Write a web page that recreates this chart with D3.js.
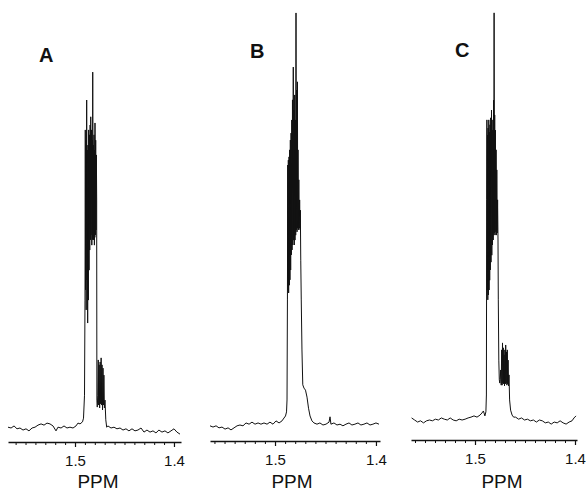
<!doctype html>
<html>
<head>
<meta charset="utf-8">
<title>1H NMR panels A B C</title>
<script src="https://d3js.org/d3.v7.min.js"></script>
<style>
  body { margin: 0; background: #fff; }
  text { font-family: "Liberation Sans", Arial, sans-serif; }
</style>
</head>
<body>
<div id="chart"></div>
<script>
// spectra: [ppm, intensity] (intensity 0 = baseline, ~100 = tallest line)
var spectrumA = [
  [1.5677,0.2],[1.5646,0],[1.5616,0.5],[1.5586,-0.2],[1.5556,0],[1.5525,-0.5],[1.5495,-0.2],[1.5465,-0.7],
  [1.5434,0],[1.5404,0.2],[1.5374,0.7],[1.5343,1.0],[1.5313,0.7],[1.5283,1.2],[1.5253,1.0],[1.5222,0.5],
  [1.5192,-0.7],[1.5172,0.2],[1.5141,0],[1.5111,0.5],[1.5081,0],[1.5051,0.2],[1.5020,0],[1.4990,0.5],
  [1.4970,1.2],[1.4949,1.0],
  [1.4924,1.5],[1.4914,2.4],[1.4904,8.0],[1.4899,31.2],[1.4896,72.7],[1.4893,33.7],[1.4890,70.2],[1.4887,28.8],
  [1.4882,80.0],[1.4879,36.1],[1.4876,67.8],[1.4872,25.6],[1.4869,69.0],[1.4865,31.2],[1.4862,72.7],[1.4858,38.5],
  [1.4855,71.5],[1.4851,43.4],[1.4847,73.9],[1.4843,45.9],[1.4841,75.9],[1.4838,47.1],[1.4834,72.7],[1.4830,44.6],
  [1.4826,70.2],[1.4823,46.0],[1.4821,86.8],[1.4818,45.9],[1.4815,69.0],[1.4811,45.9],[1.4808,71.5],[1.4804,44.6],
  [1.4801,67.8],[1.47995,46.5],[1.4798,74.4],[1.4794,47.1],[1.4791,70.2],[1.4788,48.3],[1.4784,66.6],[1.4781,55.6],
  [1.4779,6.8],[1.4775,5.1],[1.4770,8.0],[1.4765,16.6],[1.4761,5.6],[1.4756,15.4],[1.4751,4.9],[1.4746,16.1],
  [1.4741,5.9],[1.4736,17.1],[1.4731,5.6],[1.4727,15.4],[1.4722,4.4],[1.4717,14.6],[1.4713,5.6],[1.4708,12.9],
  [1.4703,4.9],[1.4697,6.8],[1.4689,2.0],[1.4680,0.2],
  [1.4667,0.5],[1.4636,0],[1.4606,0.2],[1.4576,-0.2],[1.4545,0],[1.4515,-0.5],[1.4485,-0.2],[1.4455,-0.7],
  [1.4424,-0.2],[1.4394,-0.7],[1.4364,-0.5],[1.4333,0],[1.4303,-1.0],[1.4273,-0.5],[1.4242,-1.0],[1.4212,-0.7],
  [1.4182,-1.2],[1.4152,-0.5],[1.4121,-1.0],[1.4091,-0.7],[1.4061,-1.2],[1.4030,-0.7],[1.4000,-0.2],[1.3970,-1.0],
  [1.3939,-1.5]
];

var spectrumB = [
  [1.5644,-0.2],[1.5614,-0.5],[1.5584,-0.2],[1.5555,-0.7],[1.5525,-0.5],[1.5495,-1.0],[1.5465,-0.7],[1.5436,-1.2],
  [1.5406,-0.7],[1.5376,-0.2],[1.5347,0],[1.5317,-0.2],[1.5287,0.5],[1.5257,0.2],[1.5228,0.7],[1.5198,0.2],
  [1.5168,0.5],[1.5139,0.2],[1.5109,0.5],[1.5079,0.2],[1.5050,0.7],[1.5020,0.2],[1.4990,1.0],[1.4960,0.5],
  [1.4931,1.0],[1.4911,1.7],[1.4896,2.2],[1.4886,3.2],
  [1.4881,6.1],[1.4877,30.5],[1.4874,63.4],[1.4871,32.9],[1.4868,64.6],[1.4865,32.2],[1.4861,65.4],[1.4858,34.1],
  [1.4855,67.1],[1.4852,35.4],[1.4848,69.5],[1.4845,37.8],[1.4841,71.2],[1.4838,41.5],[1.4834,74.4],[1.4831,42.7],
  [1.4827,79.3],[1.4824,43.9],[1.4819,87.3],[1.4816,45.1],[1.4812,76.8],[1.4809,43.9],[1.4805,80.5],[1.4802,45.1],
  [1.4798,74.4],[1.4795,46.3],[1.4792,100.5],[1.4789,47.6],[1.4785,81.7],[1.4782,47.1],[1.4778,83.7],[1.4775,48.0],
  [1.4772,67.1],[1.4768,47.6],[1.4764,59.8],[1.4760,48.0],[1.4756,54.9],[1.4752,47.6],[1.4749,52.4],[1.4745,40.2],
  [1.4740,30.5],[1.4733,18.3],[1.4725,9.8],[1.4713,9.0],[1.4698,8.5],[1.4683,6.8],[1.4668,4.1],[1.4653,2.2],
  [1.4634,1.0],[1.4614,0.5],
  [1.4584,0.2],[1.4555,0.5],[1.4525,0],[1.4495,0.2],[1.4465,0.7],[1.4455,2.0],[1.4446,0.2],[1.4416,0.5],
  [1.4386,0],[1.4356,0.2],[1.4327,-0.2],[1.4297,0.2],[1.4267,0.5],[1.4238,0],[1.4208,0.2],[1.4178,0.5],
  [1.4149,0],[1.4119,0.2],[1.4089,0.5],[1.4059,0],[1.4030,0.2],[1.4000,0.5],[1.3970,0.2]
];

var spectrumC = [
  [1.5634,0.5],[1.5604,0],[1.5574,-0.5],[1.5545,-0.2],[1.5515,-0.7],[1.5485,-0.2],[1.5455,0],[1.5426,-0.2],
  [1.5396,0.2],[1.5366,0],[1.5337,0.5],[1.5307,0.2],[1.5277,0],[1.5248,0.5],[1.5218,0],[1.5188,-0.2],
  [1.5158,0.2],[1.5129,0],[1.5099,0.2],[1.5069,0.5],[1.5040,0.7],[1.5010,1.0],[1.4980,0.7],[1.4950,1.2],
  [1.4931,1.7],[1.4916,2.2],[1.4901,1.0],[1.4891,2.0],
  [1.4886,6.1],[1.4883,53.7],[1.4881,73.2],[1.4878,31.7],[1.4875,69.5],[1.4872,29.3],[1.4869,71.2],[1.4866,30.5],
  [1.4862,73.2],[1.4859,31.7],[1.4856,70.2],[1.4853,34.1],[1.4850,72.0],[1.4847,36.6],[1.4843,73.7],[1.4840,38.5],
  [1.4835,75.6],[1.4832,40.2],[1.4828,70.7],[1.4825,42.7],[1.4821,73.2],[1.4818,43.9],[1.4814,78.0],[1.4811,45.1],
  [1.4809,99.3],[1.4806,45.6],[1.4803,74.4],[1.4799,45.1],[1.4796,70.7],[1.4792,45.9],[1.4789,65.9],[1.4785,45.1],
  [1.4782,61.0],[1.4778,45.6],[1.4774,53.7],[1.4770,43.9],[1.4767,29.3],[1.4762,14.6],[1.4757,9.8],[1.4752,9.0],
  [1.4748,9.8],[1.4743,12.2],[1.4738,8.5],[1.4733,17.1],[1.4729,8.5],[1.4725,18.8],[1.4721,9.0],[1.4717,17.6],
  [1.4713,8.8],[1.4709,15.9],[1.4705,8.3],[1.4701,17.1],[1.4697,8.8],[1.4693,18.3],[1.4689,9.0],[1.4685,16.6],
  [1.4681,8.5],[1.4677,17.1],[1.4673,8.8],[1.4669,14.6],[1.4665,8.3],[1.4660,11.0],[1.4654,4.9],[1.4644,2.4],
  [1.4629,1.2],[1.4614,0.7],
  [1.4594,0.7],[1.4564,0.2],[1.4535,0.5],[1.4505,0],[1.4475,0.2],[1.4446,-0.2],[1.4416,0],[1.4386,-0.5],
  [1.4356,0],[1.4327,-0.2],[1.4297,-0.7],[1.4267,-0.5],[1.4238,-1.0],[1.4208,-0.5],[1.4178,-0.7],[1.4149,-0.2],
  [1.4119,-0.7],[1.4089,-1.0],[1.4059,-0.5],[1.4030,-0.2],[1.4010,0.5],[1.3990,1.0]
];

var panelNames = ["A", "B", "C"];
var majorTicks = [1.5, 1.4];
var minorTicks = [1.56, 1.55, 1.54, 1.53, 1.52, 1.51, 1.49, 1.48, 1.47, 1.46, 1.45, 1.44, 1.43, 1.42, 1.41];
var axisTitle = "PPM";

// where each panel sits on the page
var layout = [
  {data: spectrumA, domain: [1.5677, 1.3929], left: 8,   right: 181, base: 428, axisY: 442, nameX: 39,  nameY: 62, titleX: 98},
  {data: spectrumB, domain: [1.5644, 1.3960], left: 210, right: 380, base: 425, axisY: 441, nameX: 250, nameY: 58, titleX: 292},
  {data: spectrumC, domain: [1.5640, 1.3980], left: 411, right: 577, base: 420, axisY: 440, nameX: 455, nameY: 57, titleX: 502}
];

var svg = d3.select("#chart")
  .append("svg")
    .attr("width", 586)
    .attr("height", 492);

layout.forEach(function(p, i) {
  var x = d3.scaleLinear().domain(p.domain).range([p.left, p.right]);
  var y = d3.scaleLinear().domain([0, 100]).range([p.base, p.base - 410]);
  var inside = function(t) { return t <= p.domain[0] && t >= p.domain[1]; };

  var g = svg.append("g");

  // the spectrum trace
  g.append("path")
    .datum(p.data)
    .attr("fill", "none")
    .attr("stroke", "#111")
    .attr("stroke-width", 1)
    .attr("d", d3.line()
      .x(function(d) { return x(d[0]); })
      .y(function(d) { return y(d[1]); }));

  // minor ticks every 0.01 ppm
  var minor = g.append("g")
    .attr("transform", "translate(0," + p.axisY + ")")
    .call(d3.axisBottom(x).tickValues(minorTicks.filter(inside)).tickSize(3).tickSizeOuter(0).tickFormat(""));
  minor.select(".domain").remove();
  minor.selectAll("line").attr("stroke", "#111");

  // main axis with labelled ticks
  var major = g.append("g")
    .attr("transform", "translate(0," + p.axisY + ")")
    .call(d3.axisBottom(x).tickValues(majorTicks).tickSize(5).tickSizeOuter(0).tickPadding(8).tickFormat(d3.format(".1f")));
  major.select(".domain").attr("stroke", "#111").attr("stroke-width", 1.6);
  major.selectAll("line").attr("stroke", "#111").attr("stroke-width", 1.2);
  major.selectAll("text")
    .attr("font-size", 15)
    .attr("font-family", "'Liberation Sans', Arial, sans-serif")
    .attr("fill", "#111");

  // PPM title
  g.append("text")
    .attr("x", p.titleX)
    .attr("y", 488)
    .attr("text-anchor", "middle")
    .attr("font-size", 19)
    .attr("fill", "#111")
    .text(axisTitle);

  // panel letter
  g.append("text")
    .attr("x", p.nameX)
    .attr("y", p.nameY)
    .attr("font-size", 20)
    .attr("font-weight", "bold")
    .attr("fill", "#111")
    .text(panelNames[i]);
});
</script>
</body>
</html>
